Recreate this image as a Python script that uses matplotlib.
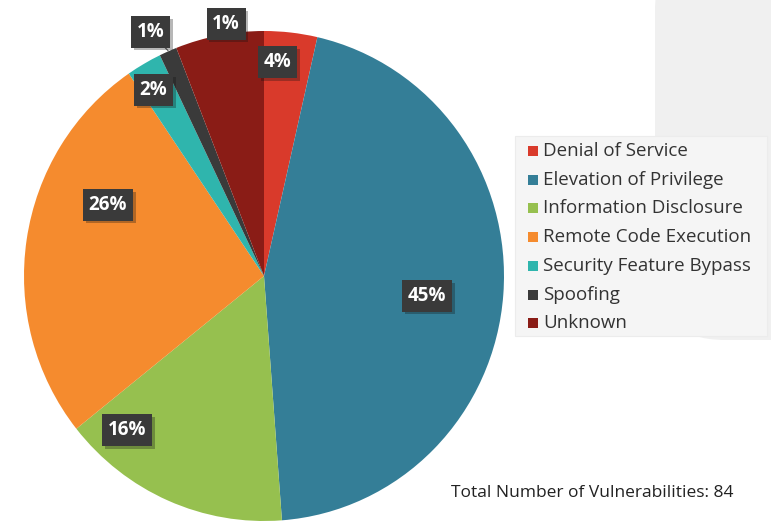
import matplotlib
matplotlib.use("Agg")
import matplotlib.pyplot as plt
from matplotlib.patches import FancyBboxPatch, Rectangle
import matplotlib.patheffects as pe

categories = ["Denial of Service", "Elevation of Privilege", "Information Disclosure",
              "Remote Code Execution", "Security Feature Bypass", "Spoofing", "Unknown"]
counts = [3, 38, 13, 22, 2, 1, 5]
pct_labels = ["4%", "45%", "16%", "26%", "2%", "1%", "1%"]
colors = ["#d93a2b", "#347e97", "#96c04f", "#f58b2e", "#2fb5ad", "#3a3a3a", "#8a1c16"]
total_text = "Total Number of Vulnerabilities: 84"

# label box positions in pie data coords (radius 1)
label_pos = [(0.058, 0.873), (0.679, -0.082), (-0.571, -0.629), (-0.65, 0.29),
             (-0.46, 0.759), (-0.471, 0.996), (-0.158, 1.029)]

W, H = 771, 523
fig = plt.figure(figsize=(W / 100, H / 100), dpi=100)
fig.patch.set_facecolor("white")

# background decoration
bg = fig.add_axes([0, 0, 1, 1])
bg.set_xlim(0, W)
bg.set_ylim(H, 0)
bg.axis("off")
bg.add_patch(FancyBboxPatch((655, -60), 260, 400, boxstyle="round,pad=0,rounding_size=70",
                            facecolor="#f0f0f0", edgecolor="none"))
bg.add_patch(Rectangle((515, 136), 252, 200, facecolor="#f5f5f5", edgecolor="#ececec", lw=0.8))

ax = fig.add_axes([24 / W, 2 / H, 480 / W, 490 / H])
wedges, _ = ax.pie(counts, colors=colors, startangle=90, counterclock=False,
                   wedgeprops=dict(linewidth=0))
ax.set_aspect("auto")
ax.set_xlim(-1, 1)
ax.set_ylim(-1, 1)
ax.axis("off")

# leader line for spoofing label
ax.plot([-0.43, -0.40], [0.95, 0.92], color="#555555", lw=0.8)

for (x, y), txt in zip(label_pos, pct_labels):
    ax.text(x, y, txt, ha="center", va="center", color="white", fontsize=13.5,
            fontweight="bold", family="Open Sans", zorder=5,
            bbox=dict(boxstyle="square,pad=0.3", facecolor="#3a3a3a", edgecolor="none",
                      path_effects=[pe.SimplePatchShadow(offset=(2, -2), alpha=0.3),
                                    pe.Normal()]))

# legend
for i, (name, c) in enumerate(zip(categories, colors)):
    y = 151 + i * 28.7
    bg.add_patch(Rectangle((528, y - 5), 10, 10, facecolor=c, edgecolor="none"))
    bg.text(543, y, name, ha="left", va="center", fontsize=13.5, color="#333333",
            family="Open Sans")

bg.text(592, 493, total_text, ha="center", va="center", fontsize=12.5, color="#222222",
        family="Open Sans")

fig.savefig("out.png", dpi=100)
